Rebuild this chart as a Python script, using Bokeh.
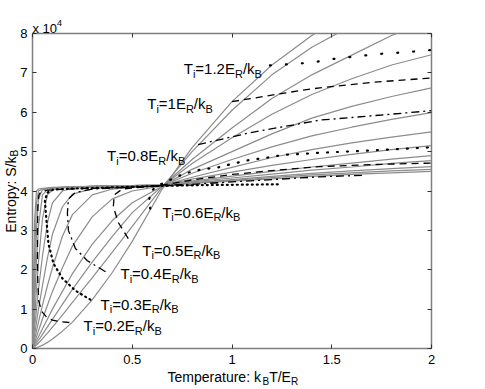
from bokeh.plotting import figure
from bokeh.models import Range1d, LinearAxis, Label, FixedTicker
from bokeh.embed import file_html
from bokeh.resources import INLINE

FONT = "Liberation Sans"

# ---------------- data (entropy in units of 1e4) ----------------
XG = [0, 0.01, 0.02, 0.03, 0.05, 0.075, 0.1, 0.15, 0.2, 0.3, 0.4, 0.5, 0.65,
      0.8, 1.0, 1.2, 1.4, 1.6, 1.8, 2.0]
G0 = [0, 0.01, 0.02, 0.04, 0.085, 0.155, 0.24, 0.44, 0.67, 1.24, 1.93, 2.72, 4.05, 5.1, 6.27, 7.2, 7.95, 8.6, 9.2, 9.7]
G1 = [0, 0.04, 0.09, 0.14, 0.25, 0.39, 0.54, 0.85, 1.17, 1.8, 2.45, 3.1, 4.1, 5.0, 6.05, 6.95, 7.65, 8.2, 8.7, 9.1]
G2 = [0, 0.07, 0.14, 0.21, 0.36, 0.55, 0.74, 1.12, 1.5, 2.2, 2.85, 3.45, 4.12, 4.8, 5.6, 6.35, 6.95, 7.45, 7.95, 8.35]
G3 = [0, 0.1, 0.2, 0.3, 0.5, 0.75, 1.0, 1.45, 1.9, 2.65, 3.25, 3.7, 4.12, 4.7, 5.35, 5.95, 6.45, 6.85, 7.2, 7.46]
G4 = [0, 0.15, 0.3, 0.45, 0.75, 1.1, 1.45, 2.05, 2.6, 3.35, 3.8, 4.0, 4.13, 4.55, 5.0, 5.45, 5.85, 6.15, 6.4, 6.62]
G5 = [0, 0.22, 0.45, 0.67, 1.1, 1.6, 2.05, 2.85, 3.4, 3.9, 4.05, 4.1, 4.13, 4.45, 4.8, 5.12, 5.4, 5.62, 5.82, 5.99]
G6 = [0, 0.33, 0.66, 1.0, 1.6, 2.3, 2.9, 3.6, 3.92, 4.06, 4.1, 4.12, 4.14, 4.35, 4.6, 4.85, 5.05, 5.22, 5.37, 5.5]
G7 = [0, 0.5, 1.0, 1.5, 2.35, 3.2, 3.7, 4.0, 4.07, 4.1, 4.12, 4.13, 4.14, 4.3, 4.48, 4.65, 4.8, 4.93, 5.05, 5.15]
G8 = [0, 0.75, 1.5, 2.2, 3.3, 3.9, 4.03, 4.08, 4.1, 4.12, 4.13, 4.14, 4.15, 4.25, 4.38, 4.5, 4.61, 4.71, 4.81, 4.9]
G9 = [0, 1.1, 2.2, 3.1, 3.9, 4.04, 4.07, 4.09, 4.1, 4.12, 4.13, 4.14, 4.15, 4.23, 4.33, 4.43, 4.53, 4.61, 4.7, 4.77]
G10 = [0, 1.6, 3.0, 3.8, 4.03, 4.06, 4.08, 4.09, 4.1, 4.12, 4.13, 4.14, 4.15, 4.21, 4.29, 4.37, 4.45, 4.51, 4.57, 4.62]
G11 = [0, 2.3, 3.7, 4.0, 4.05, 4.07, 4.08, 4.09, 4.1, 4.12, 4.13, 4.14, 4.15, 4.2, 4.27, 4.34, 4.41, 4.46, 4.51, 4.55]
G12 = [0, 3.2, 4.0, 4.05, 4.07, 4.08, 4.09, 4.1, 4.11, 4.12, 4.13, 4.14, 4.15, 4.19, 4.25, 4.31, 4.37, 4.42, 4.46, 4.5]
GRAY_CURVES = [G0, G1, G2, G3, G4, G5, G6, G7, G8, G9, G10, G11, G12]

# black curves: (T, S/1e4)
B02_T = [0.185, 0.14, 0.1, 0.07, 0.045, 0.032, 0.027, 0.025, 0.025, 0.027, 0.032, 0.045, 0.1, 0.3, 0.5, 0.65, 0.8]
B02_S = [0.66, 0.68, 0.72, 0.8, 0.95, 1.2, 1.6, 2.2, 3.0, 3.6, 3.9, 4.0, 4.03, 4.07, 4.1, 4.13, 4.15]
B03_T = [0.29, 0.215, 0.15, 0.105, 0.08, 0.07, 0.062, 0.075, 0.105, 0.2, 0.4, 0.65, 0.85, 1.05, 1.23]
B03_S = [1.24, 1.47, 1.78, 2.16, 2.66, 3.25, 3.76, 3.96, 4.04, 4.06, 4.09, 4.13, 4.15, 4.16, 4.17]
B04_T = [0.366, 0.275, 0.215, 0.18, 0.175, 0.18, 0.215, 0.3, 0.5, 0.65, 0.8, 1.0, 1.2, 1.44, 1.66]
B04_S = [1.95, 2.23, 2.54, 3.0, 3.43, 3.8, 3.96, 4.05, 4.1, 4.14, 4.17, 4.23, 4.29, 4.36, 4.4]
B05_T = [0.48, 0.43, 0.405, 0.41, 0.45, 0.55, 0.65, 0.8, 1.0, 1.2, 1.44, 1.7, 2.0]
B05_S = [2.79, 3.2, 3.6, 3.9, 4.05, 4.1, 4.15, 4.28, 4.42, 4.52, 4.62, 4.67, 4.71]
B06_T = [0.59, 0.585, 0.6, 0.63, 0.68, 0.76, 0.84, 0.93, 1.01, 1.09, 1.18, 1.26, 1.34, 1.44, 1.7, 2.0]
B06_S = [3.55, 3.8, 4.02, 4.14, 4.26, 4.44, 4.54, 4.6, 4.7, 4.79, 4.85, 4.92, 4.94, 4.97, 5.03, 5.11]
B08_T = [0.83, 1.09, 1.44, 1.75, 2.0]
B08_S = [5.18, 5.48, 5.8, 5.93, 6.04]
B10_T = [1.0, 1.34, 1.44, 1.7, 2.0]
B10_S = [6.27, 6.55, 6.62, 6.76, 6.87]
B12_T = [1.19, 1.4, 1.5, 1.66, 1.76, 1.86, 1.95, 2.0]
B12_S = [7.19, 7.26, 7.35, 7.44, 7.49, 7.52, 7.56, 7.58]

LABELS = ["1.2", "1", "0.8", "0.6", "0.5", "0.4", "0.3", "0.2"]
LABEL_X = [0.758, 0.575, 0.374, 0.65, 0.55, 0.441, 0.341, 0.256]
LABEL_Y = [7.10, 6.21, 4.90, 3.46, 2.49, 1.90, 1.13, 0.58]

XTICKS = [0, 0.5, 1, 1.5, 2]
XTICK_LABELS = ["0", "0.5", "1", "1.5", "2"]
YTICKS = [0, 1, 2, 3, 4, 5, 6, 7, 8]

# ---------------- figure ----------------
p = figure(width=480, height=388, output_backend="svg", toolbar_location=None,
           x_range=Range1d(0, 2), y_range=Range1d(0, 8),
           min_border_left=32, min_border_right=49, min_border_top=33, min_border_bottom=40)
p.grid.visible = False
p.background_fill_color = "white"
p.border_fill_color = "white"
p.outline_line_color = "#7f7f7f"
p.outline_line_width = 1.5

TICK = "#333333"
for ax in (p.xaxis[0], p.yaxis[0]):
    ax.axis_line_color = None
    ax.major_tick_in = 4
    ax.major_tick_out = 0
    ax.major_tick_line_color = TICK
    ax.minor_tick_line_color = None
    ax.major_label_text_font = FONT
    ax.major_label_text_font_size = "13px"
    ax.major_label_text_color = "black"
p.xaxis[0].ticker = FixedTicker(ticks=XTICKS)
p.xaxis[0].major_label_overrides = {t: s for t, s in zip(XTICKS, XTICK_LABELS)}
p.xaxis[0].major_label_standoff = 6
p.yaxis[0].ticker = FixedTicker(ticks=YTICKS)
p.yaxis[0].major_label_standoff = 5

top = LinearAxis(ticker=FixedTicker(ticks=XTICKS), axis_line_color=None, major_tick_in=4,
                 major_tick_out=0, minor_tick_line_color=None, major_tick_line_color=TICK,
                 major_label_overrides={t: "" for t in XTICKS}, major_label_standoff=0)
right = LinearAxis(ticker=FixedTicker(ticks=YTICKS), axis_line_color=None, major_tick_in=4,
                   major_tick_out=0, minor_tick_line_color=None, major_tick_line_color=TICK,
                   major_label_overrides={t: "" for t in YTICKS}, major_label_standoff=0)
p.add_layout(top, "above")
p.add_layout(right, "right")

for g in GRAY_CURVES:
    p.line(XG, g, line_color="#8c8c8c", line_width=1.2)

K = "black"
p.line(B02_T, B02_S, line_color=K, line_width=1.3, line_dash="7 5")
p.line(B03_T, B03_S, line_color=K, line_width=2.2, line_dash="1 4", line_cap="round")
p.line(B04_T, B04_S, line_color=K, line_width=1.3, line_dash="8 4 2 4")
p.line(B05_T, B05_S, line_color=K, line_width=1.3, line_dash="7 5")
p.line(B06_T, B06_S, line_color=K, line_width=2.2, line_dash="1 9", line_cap="round")
p.line(B08_T, B08_S, line_color=K, line_width=1.3, line_dash="8 4 2 4")
p.line(B10_T, B10_S, line_color=K, line_width=1.3, line_dash="7 5")
p.line(B12_T, B12_S, line_color=K, line_width=2.2, line_dash="1 15", line_cap="round")

# ---------------- rich text helper ----------------
W = {' ': 278, '.': 278, '=': 584, 'T': 611, 'E': 667, 'R': 722, 'B': 667, 'k': 500, 'i': 222,
     '/': 278, 'x': 500, 'S': 667, ':': 278, 'e': 556, 'm': 833, 'p': 556, 'r': 333, 'a': 556,
     't': 278, 'u': 556, 'n': 556, 'o': 556, 'y': 500}


def tw(s, fs):
    return sum(W.get(c, 556) for c in s) * fs / 1000.0


def rich(x, y, parts, size=14, small=10, drop=4, angle=0.0, places=None):
    """parts: (text, kind); kind n/sub/sup. places: side panel per part
    (labels outside the frame must live in a side panel or they get clipped)."""
    off = 0.0
    for i, (t, kind) in enumerate(parts):
        fs = size if kind == "n" else small
        shift = 0 if kind == "n" else (-drop if kind == "sub" else 6)
        if angle == 0:
            xo, yo = off, shift
        else:
            xo, yo = -shift, off
        lab = Label(x=x, y=y, x_offset=xo, y_offset=yo, text=t, text_font=FONT,
                    text_font_size=f"{fs}px", text_baseline="alphabetic",
                    text_align="left", angle=angle, text_color="black")
        if places is None:
            p.add_layout(lab)
        else:
            p.add_layout(lab, places[i])
        off += tw(t, fs)


for lab, lx, ly in zip(LABELS, LABEL_X, LABEL_Y):
    rich(lx, ly, [("T", "n"), ("i", "sub"), ("=" + lab + "E", "n"), ("R", "sub"), ("/k", "n"), ("B", "sub")],
         size=15, small=11, drop=5)

rich(0.0, 8.12, [("x 10", "n"), ("4", "sup")], size=13, small=9, places=["above", "right"])
rich(0.677, -0.736, [("Temperature: k", "n"), ("B", "sub"), ("T/E", "n"), ("R", "sub")],
     size=14, small=10, places=["below", "right", "right", "right"])
rich(-0.11, 2.94, [("Entropy: S/k", "n"), ("B", "sub")], size=14, small=10,
     angle=1.5707963, places=["left", "above"])

open("out.html", "w").write(file_html(p, INLINE))
